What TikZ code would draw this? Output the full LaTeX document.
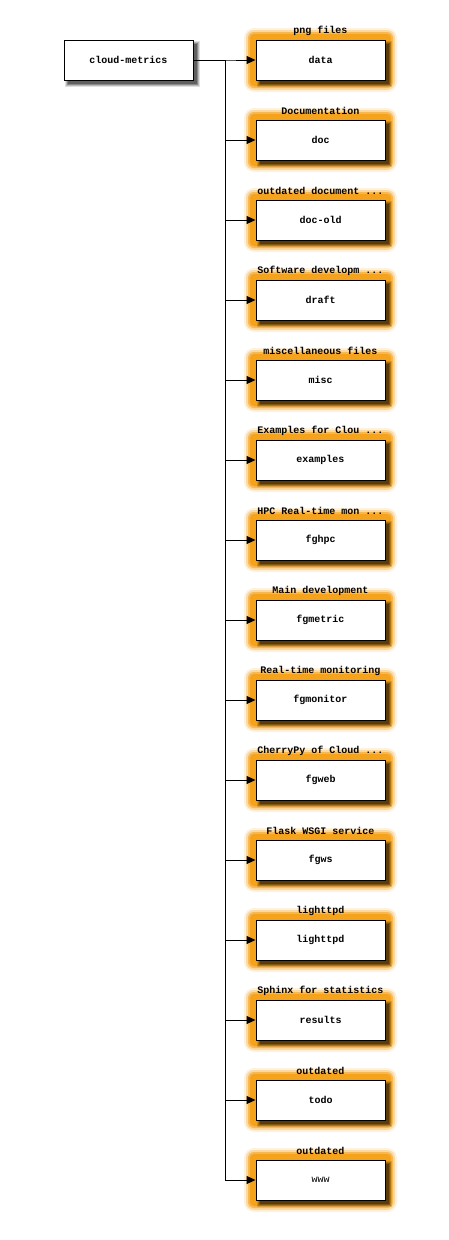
\documentclass[tikz,border=0pt]{standalone}
\usepackage{fontspec}
\setmonofont{Liberation Mono}
\usetikzlibrary{arrows.meta}
\definecolor{glow}{RGB}{245,162,28}
\tikzset{
 box/.style={draw=black, line width=1pt, fill=white, minimum width=129pt, minimum height=40pt, inner sep=0pt, font=\ttfamily\bfseries\fontsize{10}{12}\selectfont},
 lab/.style={font=\ttfamily\bfseries\fontsize{10}{12}\selectfont, inner sep=0pt},
 conn/.style={line width=1pt, -{Triangle[length=9pt,width=8pt]}},
 shad/.style={fill=black}
}
\newcommand{\mkshadow}[4]{%
 \fill[shad,opacity=0.12] (#1+1,#2+1) rectangle (#3+7,#4+7);
 \fill[shad,opacity=0.18] (#1+2,#2+2) rectangle (#3+6,#4+6);
 \fill[shad,opacity=0.25] (#1+3,#2+3) rectangle (#3+5,#4+5);
 \fill[shad,opacity=0.3] (#1+4,#2+4) rectangle (#3+4,#4+4);
}
\newcommand{\mkchild}[4]{%
 \fill[glow,opacity=0.15,rounded corners=10pt] (244,#4-32) rectangle (397,#4+32);
 \fill[glow,opacity=0.3,rounded corners=8pt] (246,#4-30) rectangle (395,#4+30);
 \fill[glow,opacity=0.6,rounded corners=6pt] (248,#4-28) rectangle (393,#4+28);
 \fill[glow,rounded corners=4pt] (250,#4-26) rectangle (391,#4+26);
 \mkshadow{256}{#4-20}{385}{#4+20}
 \node[box] (#1) at (320.5,#4) {#2};
 \node[lab] (#1lab) at (320.5,#4-29) {#3};
 \draw[conn] (root.east) -- ++(32,0) |- (#1.west);
}
\begin{document}
\begin{tikzpicture}[x=1pt,y=-1pt]
\useasboundingbox (0,0) rectangle (448,1240);
\mkshadow{64}{40}{193}{80}
\node[box] (root) at (128.5,60) {cloud-metrics};
\mkchild{data}{data}{png files}{60}
\mkchild{doc}{doc}{Documentation}{140}
\mkchild{docold}{doc-old}{outdated document ...}{220}
\mkchild{draft}{draft}{Software developm ...}{300}
\mkchild{misc}{misc}{miscellaneous files}{380}
\mkchild{examples}{examples}{Examples for Clou ...}{460}
\mkchild{fghpc}{fghpc}{HPC Real-time mon ...}{540}
\mkchild{fgmetric}{fgmetric}{Main development}{620}
\mkchild{fgmonitor}{fgmonitor}{Real-time monitoring}{700}
\mkchild{fgweb}{fgweb}{CherryPy of Cloud ...}{780}
\mkchild{fgws}{fgws}{Flask WSGI service}{860}
\mkchild{lighttpd}{lighttpd}{lighttpd}{940}
\mkchild{results}{results}{Sphinx for statistics}{1020}
\mkchild{todo}{todo}{outdated}{1100}
\mkchild{www}{\mdseries www}{outdated}{1180}
\end{tikzpicture}
\end{document}
